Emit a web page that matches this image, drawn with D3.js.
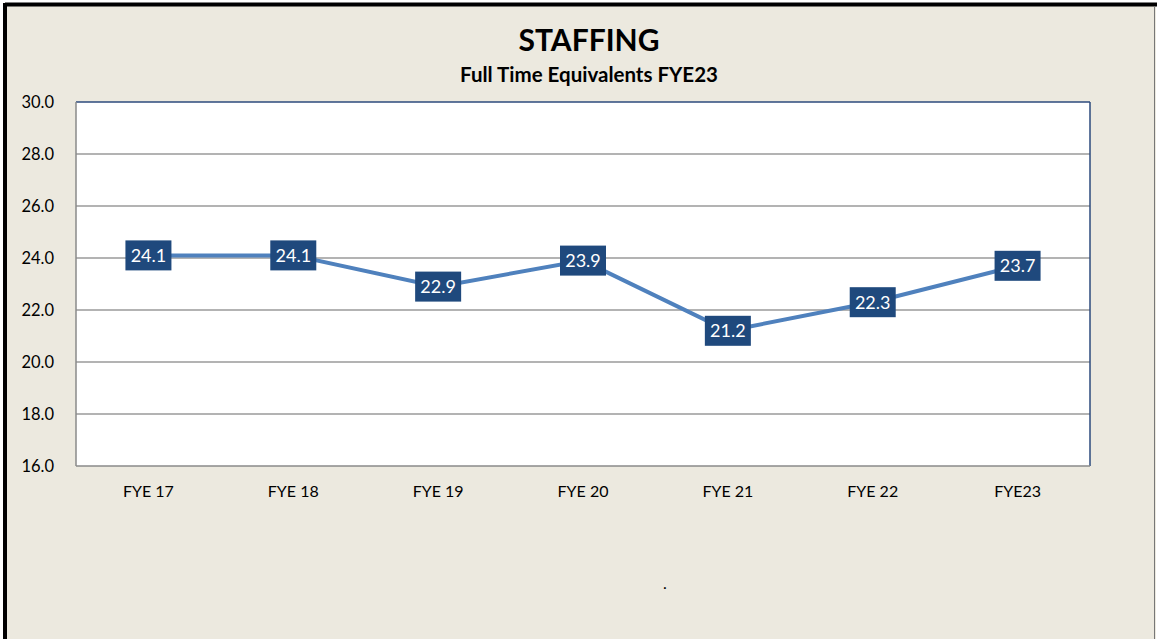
<!DOCTYPE html>
<html>
<head>
<meta charset="utf-8">
<script src="https://cdn.jsdelivr.net/npm/d3@7"></script>
<style>
  html, body { margin: 0; padding: 0; background: #fff; }
  svg { display: block; font-family: Lato, "Open Sans", sans-serif; }
</style>
</head>
<body>
<svg id="chart" width="1157" height="639"></svg>
<script>
// chart data
const categories = ['FYE 17', 'FYE 18', 'FYE 19', 'FYE 20', 'FYE 21', 'FYE 22', 'FYE23'];
const fte = [24.1, 24.1, 22.9, 23.9, 21.2, 22.3, 23.7];
const yTicks = [16, 18, 20, 22, 24, 26, 28, 30];

const svg = d3.select('#chart');
const W = 1157, H = 639;
const plot = { left: 76, top: 102, right: 1090, bottom: 466 };

// frame + background
svg.append('rect').attr('x', 0).attr('y', 0).attr('width', W).attr('height', H).attr('fill', '#fff');
svg.append('rect').attr('x', 5).attr('y', 5).attr('width', W - 6).attr('height', H).attr('fill', '#ECE9DF');
svg.append('line').attr('x1', 5).attr('x2', W).attr('y1', 4.5).attr('y2', 4.5).attr('stroke', '#000').attr('stroke-width', 4);
svg.append('line').attr('x1', 5).attr('x2', 5).attr('y1', 3).attr('y2', H).attr('stroke', '#000').attr('stroke-width', 4);
svg.append('line').attr('x1', W - 2.5).attr('x2', W - 2.5).attr('y1', 6).attr('y2', H).attr('stroke', '#777').attr('stroke-width', 1);

// titles
svg.append('text').attr('x', 589).attr('y', 51).attr('text-anchor', 'middle')
  .attr('font-size', 30).attr('font-weight', 'bold').attr('fill', '#000').text('STAFFING');
svg.append('text').attr('x', 589).attr('y', 82).attr('text-anchor', 'middle')
  .attr('font-size', 20.5).attr('font-weight', 'bold').attr('fill', '#000').text('Full Time Equivalents FYE23');

const x = d3.scalePoint().domain(categories).range([plot.left, plot.right]).padding(0.5);
const y = d3.scaleLinear().domain([16, 30]).range([plot.bottom, plot.top]);

// plot area
svg.append('rect').attr('x', plot.left).attr('y', plot.top)
  .attr('width', plot.right - plot.left).attr('height', plot.bottom - plot.top).attr('fill', '#fff');

// gridlines
svg.append('g').selectAll('line').data(yTicks.slice(1, -1)).join('line')
  .attr('x1', plot.left).attr('x2', plot.right)
  .attr('y1', d => y(d)).attr('y2', d => y(d))
  .attr('stroke', '#9a9a9a').attr('stroke-width', 1.5);

// plot border: gray left/bottom, dark blue top/right
svg.append('line').attr('x1', plot.left).attr('x2', plot.right).attr('y1', plot.top).attr('y2', plot.top).attr('stroke', '#2c4a7c').attr('stroke-width', 1.5);
svg.append('line').attr('x1', plot.right).attr('x2', plot.right).attr('y1', plot.top).attr('y2', plot.bottom).attr('stroke', '#2c4a7c').attr('stroke-width', 1.5);
svg.append('line').attr('x1', plot.left).attr('x2', plot.left).attr('y1', plot.top).attr('y2', plot.bottom).attr('stroke', '#8a8a8a').attr('stroke-width', 1.5);
svg.append('line').attr('x1', plot.left).attr('x2', plot.right).attr('y1', plot.bottom).attr('y2', plot.bottom).attr('stroke', '#8a8a8a').attr('stroke-width', 1.5);

// y tick labels
svg.append('g').selectAll('text').data(yTicks).join('text')
  .attr('x', 54).attr('y', d => y(d) + 6).attr('text-anchor', 'end')
  .attr('font-size', 16.5).attr('fill', '#000').text(d => d3.format('.1f')(d));

// x tick labels
svg.append('g').selectAll('text').data(categories).join('text')
  .attr('x', d => x(d)).attr('y', 497).attr('text-anchor', 'middle')
  .attr('font-size', 16).attr('fill', '#000').text(d => d);

// line
const line = d3.line().x((d, i) => x(categories[i])).y(d => y(d));
svg.append('path').datum(fte).attr('d', line)
  .attr('fill', 'none').attr('stroke', '#4F81BD').attr('stroke-width', 4);

// data labels
const lbl = svg.append('g').selectAll('g').data(fte).join('g')
  .attr('transform', (d, i) => `translate(${x(categories[i])},${y(d)})`);
lbl.append('rect').attr('x', -23).attr('y', -15).attr('width', 46).attr('height', 30).attr('fill', '#1F497D');
lbl.append('text').attr('y', 6.5).attr('text-anchor', 'middle').attr('font-size', 18)
  .attr('fill', '#fff').text(d => d3.format('.1f')(d));

// stray dot
svg.append('text').attr('x', 665).attr('y', 589).attr('text-anchor', 'middle').attr('font-size', 16).text('.');
</script>
</body>
</html>
